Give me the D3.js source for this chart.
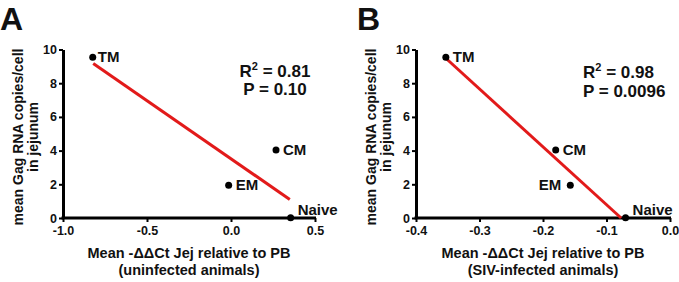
<!DOCTYPE html>
<html>
<head>
<meta charset="utf-8">
<script src="https://cdn.jsdelivr.net/npm/d3@7"></script>
<style>
  body { margin: 0; background: #fff; }
  svg text { font-family: "Liberation Sans", Arial, sans-serif; font-weight: bold; fill: #111; }
  .axis path, .axis line { stroke: #000; }
</style>
</head>
<body>
<div id="chart"></div>
<script>
// cell subsets
var subsets = ["TM", "CM", "EM", "Naive"];

// panel A: uninfected animals
var xValuesA = [-0.823, 0.268, -0.014, 0.355];
var yValuesA = [9.54, 4.04, 1.94, 0.02];
var fitXA = [-0.82, 0.35];
var fitYA = [9.17, 1.10];
var xTicksA = [-1.0, -0.5, 0.0, 0.5];
var statsA = ["R2 = 0.81", "P = 0.10"];

// panel B: SIV-infected animals
var xValuesB = [-0.353, -0.180, -0.157, -0.070];
var yValuesB = [9.54, 4.04, 1.94, 0.02];
var fitXB = [-0.353, -0.077];
var fitYB = [9.48, 0];
var xTicksB = [-0.4, -0.3, -0.2, -0.1, 0.0];
var statsB = ["R2 = 0.98", "P = 0.0096"];

var yTicks = [0, 2, 4, 6, 8, 10];

var svg = d3.select("#chart").append("svg")
    .attr("width", 679)
    .attr("height", 282);

function drawPanel(opt) {
    var xScale = d3.scaleLinear().domain(opt.xDomain).range([opt.left, opt.right]);
    var yScale = d3.scaleLinear().domain([0, 10]).range([218, 49.5]);

    var g = svg.append("g");

    // panel letter
    g.append("text")
        .attr("x", opt.letterX)
        .attr("y", 30)
        .style("font-size", "32px")
        .text(opt.letter);

    // axes
    var xAxis = g.append("g")
        .attr("class", "axis")
        .attr("transform", "translate(0,218)")
        .call(d3.axisBottom(xScale).tickValues(opt.xTicks).tickSize(4).tickSizeOuter(0).tickPadding(4)
            .tickFormat(d3.format(".1f")));
    xAxis.select(".domain").attr("stroke-width", 3).attr("d", "M" + (opt.left - 1.5) + ",0H" + (opt.right + 1));
    xAxis.selectAll(".tick line").attr("stroke-width", 2);
    xAxis.selectAll(".tick text").style("font-size", "12.5px").text(function (d) {
        return d3.format(".1f")(d).replace("−", "-");
    });

    var yAxis = g.append("g")
        .attr("class", "axis")
        .attr("transform", "translate(" + opt.left + ",0)")
        .call(d3.axisLeft(yScale).tickValues(yTicks).tickSize(4).tickSizeOuter(0).tickPadding(2));
    yAxis.select(".domain").attr("stroke-width", 3);
    yAxis.selectAll(".tick line").attr("stroke-width", 2);
    yAxis.selectAll(".tick text").style("font-size", "12.5px");

    // axis titles
    var ly = g.append("text")
        .attr("transform", "translate(" + (opt.left - 40) + ",137) rotate(-90)")
        .attr("text-anchor", "middle")
        .style("font-size", "14px");
    ly.append("tspan").attr("x", 0).attr("dy", 0).text("mean Gag RNA copies/cell");
    ly.append("tspan").attr("x", 0).attr("dy", 14.5).text("in jejunum");

    var cx = (opt.left + opt.right) / 2;
    var lx = g.append("text")
        .attr("text-anchor", "middle")
        .style("font-size", "14.5px");
    lx.append("tspan").attr("x", cx).attr("y", 258).text("Mean -\u0394\u0394Ct Jej relative to PB");
    lx.append("tspan").attr("x", cx).attr("y", 275).text(opt.xSub);

    // regression line
    g.append("line")
        .attr("x1", xScale(opt.fitX[0])).attr("y1", yScale(opt.fitY[0]))
        .attr("x2", xScale(opt.fitX[1])).attr("y2", yScale(opt.fitY[1]))
        .attr("stroke", "#e21a1a")
        .attr("stroke-width", 3);

    // points
    var pts = subsets.map(function (s, i) {
        return { name: s, x: opt.xValues[i], y: opt.yValues[i] };
    });
    g.selectAll("circle")
        .data(pts)
        .enter()
        .append("circle")
        .attr("cx", function (d) { return xScale(d.x); })
        .attr("cy", function (d) { return yScale(d.y); })
        .attr("r", 3.5)
        .style("fill", "#000");

    g.selectAll(".plabel")
        .data(pts)
        .enter()
        .append("text")
        .attr("class", "plabel")
        .attr("x", function (d) { return xScale(d.x) + opt.labelDx[d.name]; })
        .attr("y", function (d) { return yScale(d.y) + opt.labelDy[d.name]; })
        .attr("text-anchor", function (d) { return opt.labelDx[d.name] < 0 ? "end" : "start"; })
        .style("font-size", "15px")
        .text(function (d) { return d.name; });

    // stats
    var st = g.append("text")
        .attr("text-anchor", opt.statAnchor)
        .style("font-size", "17px");
    opt.stats.forEach(function (s, i) {
        var t = st.append("tspan").attr("x", opt.statX).attr("y", opt.statY[i]);
        if (s.indexOf("R2") === 0) {
            t.text("R");
            st.append("tspan").attr("dy", -7).style("font-size", "11px").text("2");
            st.append("tspan").attr("dy", 7).text(s.slice(2));
        } else {
            t.text(s);
        }
    });
}

drawPanel({
    letter: "A", letterX: 0,
    left: 63, right: 315, xDomain: [-1.0, 0.5], xTicks: xTicksA,
    xValues: xValuesA, yValues: yValuesA, fitX: fitXA, fitY: fitYA,
    xSub: "(uninfected animals)",
    labelDx: { TM: 5, CM: 7, EM: 7, Naive: 7 },
    labelDy: { TM: 5, CM: 5, EM: 5, Naive: -3 },
    stats: statsA, statX: 275, statY: [77, 95], statAnchor: "middle"
});

drawPanel({
    letter: "B", letterX: 357,
    left: 416, right: 670, xDomain: [-0.4, 0.0], xTicks: xTicksB,
    xValues: xValuesB, yValues: yValuesB, fitX: fitXB, fitY: fitYB,
    xSub: "(SIV-infected animals)",
    labelDx: { TM: 7, CM: 7, EM: -9, Naive: 7 },
    labelDy: { TM: 5, CM: 5, EM: 5, Naive: -3 },
    stats: statsB, statX: 583, statY: [78, 96.5], statAnchor: "start"
});
</script>
</body>
</html>
